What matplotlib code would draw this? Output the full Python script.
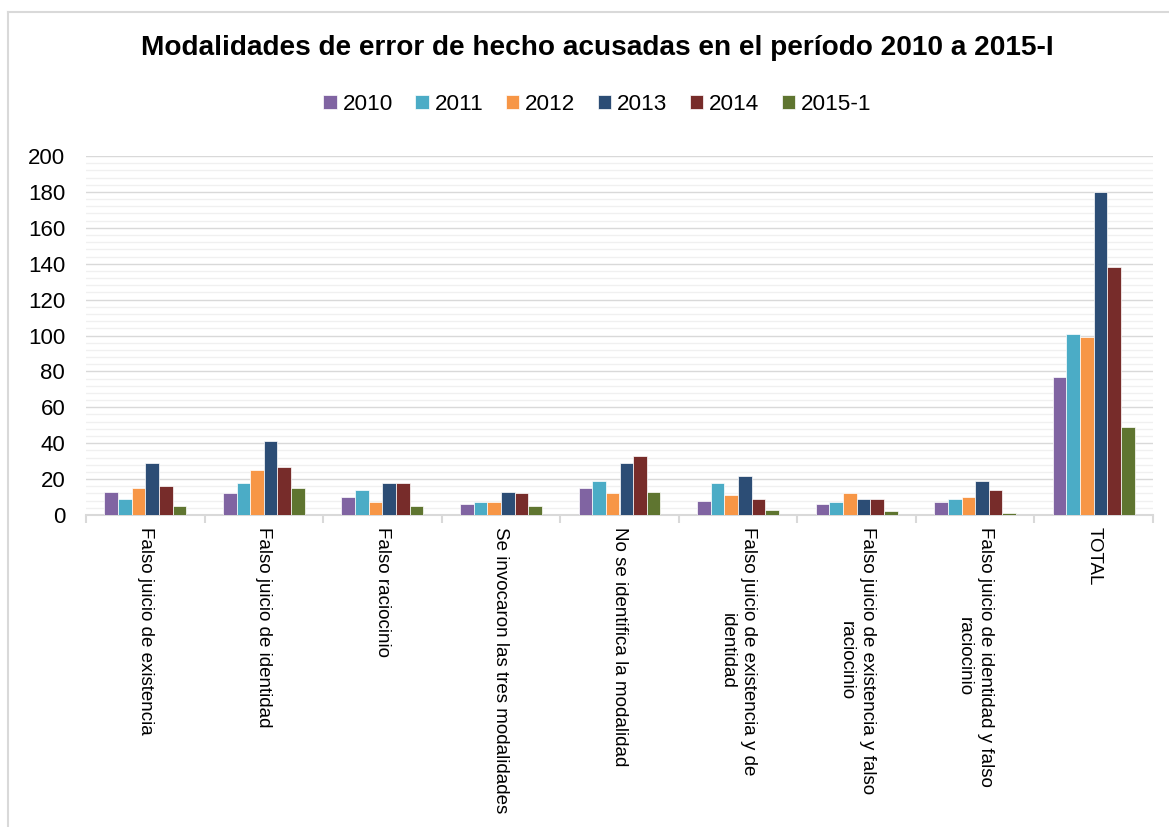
import matplotlib
matplotlib.use("Agg")
import matplotlib.pyplot as plt
from matplotlib.lines import Line2D
import numpy as np

plt.rcParams['font.family'] = ['Liberation Sans', 'DejaVu Sans']

categories = [
    "Falso juicio de existencia",
    "Falso juicio de identidad",
    "Falso raciocinio",
    "Se invocaron las tres modalidades",
    "No se identifica la modalidad",
    "Falso juicio de existencia y de\nidentidad",
    "Falso juicio de existencia y falso\nraciocinio",
    "Falso juicio de identidad y falso\nraciocinio",
    "TOTAL",
]
series_names = ["2010", "2011", "2012", "2013", "2014", "2015-1"]
v2010 = [13, 12, 10, 6, 15, 8, 6, 7, 77]
v2011 = [9, 18, 14, 7, 19, 18, 7, 9, 101]
v2012 = [15, 25, 7, 7, 12, 11, 12, 10, 99]
v2013 = [29, 41, 18, 13, 29, 22, 9, 19, 180]
v2014 = [16, 27, 18, 12, 33, 9, 9, 14, 138]
v2015 = [5, 15, 5, 5, 13, 3, 2, 1, 49]
series_values = [v2010, v2011, v2012, v2013, v2014, v2015]
colors = ["#8064A2", "#4BACC6", "#F79646", "#2C4D75", "#772C2A", "#5F7530"]

fig = plt.figure(figsize=(11.69, 8.27), dpi=100)
ax = fig.add_axes([86 / 1169, 1 - 515 / 827, (1153 - 86) / 1169, (515 - 156) / 827])

n = len(series_names)
group_w = 0.69
bw = group_w / n
x = np.arange(len(categories))
for i, (name, vals, c) in enumerate(zip(series_names, series_values, colors)):
    offs = -group_w / 2 + bw * (i + 0.5)
    ax.bar(x + offs, vals, width=bw, color=c, edgecolor="white",
           linewidth=0.5, label=name, zorder=3)

ax.set_xlim(-0.5, len(categories) - 0.5)
ax.set_ylim(0, 200)
ax.set_yticks(np.arange(0, 201, 20))
ax.set_yticks(np.arange(0, 201, 4), minor=True)
ax.yaxis.grid(True, which="major", color="#D9D9D9", linewidth=1.0, zorder=0)
ax.yaxis.grid(True, which="minor", color="#F0F0F0", linewidth=1.0, zorder=0)
ax.set_axisbelow(True)
ax.tick_params(axis="y", which="both", length=0, labelsize=16, pad=15, colors="black")

# category labels centered in each slot, ticks at slot boundaries
ax.set_xticks(x)
ax.set_xticklabels(categories, rotation=-90, fontsize=13.5, ha="center",
                   va="top", multialignment="center", linespacing=1.35)
ax.tick_params(axis="x", which="major", length=0, pad=8.5)
ax.set_xticks(np.arange(-0.5, len(categories), 1.0), minor=True)
ax.tick_params(axis="x", which="minor", length=6, color="#D9D9D9", width=1.5)

for s in ["top", "right", "left"]:
    ax.spines[s].set_visible(False)
ax.spines["bottom"].set_color("#D9D9D9")
ax.spines["bottom"].set_linewidth(1.5)

fig.text(0.511, 1 - 48 / 827, "Modalidades de error de hecho acusadas en el período 2010 a 2015-I",
         ha="center", va="center", fontsize=20.2, fontweight="bold")

handles, labels = ax.get_legend_handles_labels()
fig.legend(handles, labels, loc="center", bbox_to_anchor=(0.511, 1 - 104 / 827),
           ncol=6, frameon=False, fontsize=16.2, handlelength=0.6, handleheight=0.58,
           handletextpad=0.25, columnspacing=1.0)

# chart area border
fig.add_artist(Line2D([8 / 1169, 8 / 1169], [0, 1 - 12 / 827],
                      transform=fig.transFigure, color="#D9D9D9", linewidth=1.5))
fig.add_artist(Line2D([8 / 1169, 1], [1 - 12 / 827, 1 - 12 / 827],
                      transform=fig.transFigure, color="#D9D9D9", linewidth=1.5))

fig.savefig("out.png", dpi=100)
